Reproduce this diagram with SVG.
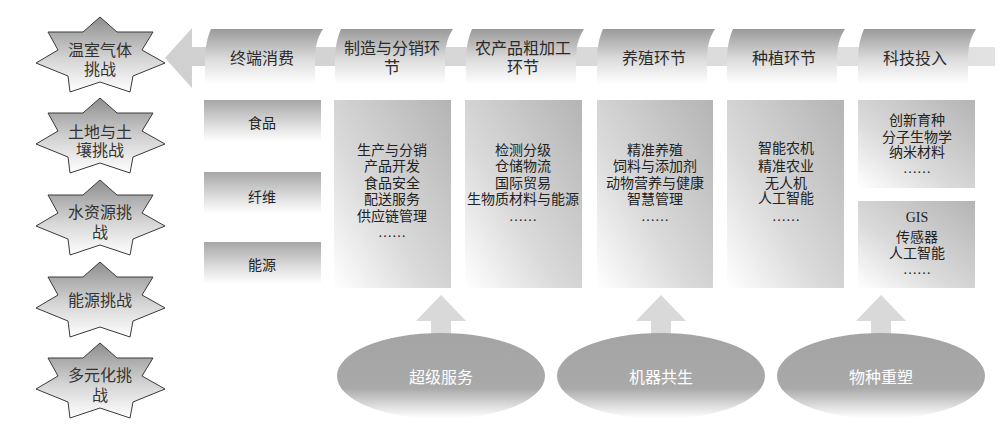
<svg xmlns="http://www.w3.org/2000/svg" width="1008" height="430" viewBox="0 0 1008 430">
<defs>
  <linearGradient id="gStar" x1="0" y1="0" x2="0" y2="1">
    <stop offset="0" stop-color="#8e8e8e"/>
    <stop offset="0.55" stop-color="#d4d4d4"/>
    <stop offset="1" stop-color="#ffffff"/>
  </linearGradient>
  <linearGradient id="gTab" x1="0" y1="0" x2="0" y2="1">
    <stop offset="0" stop-color="#9a9a9a"/>
    <stop offset="0.55" stop-color="#dcdcdc"/>
    <stop offset="1" stop-color="#ffffff"/>
  </linearGradient>
  <linearGradient id="gSmall" x1="0" y1="0" x2="0" y2="1">
    <stop offset="0" stop-color="#a6a6a6"/>
    <stop offset="0.6" stop-color="#dedede"/>
    <stop offset="1" stop-color="#ffffff"/>
  </linearGradient>
  <linearGradient id="gBox" x1="1" y1="0" x2="0" y2="1">
    <stop offset="0" stop-color="#b4b4b4"/>
    <stop offset="0.6" stop-color="#dadada"/>
    <stop offset="1" stop-color="#ffffff"/>
  </linearGradient>
  <linearGradient id="gEll" x1="0" y1="0" x2="0" y2="1">
    <stop offset="0" stop-color="#a4a4a4"/>
    <stop offset="0.64" stop-color="#a9a9a9"/>
    <stop offset="0.97" stop-color="#fbfbfb"/>
    <stop offset="1" stop-color="#ffffff"/>
  </linearGradient>
  <linearGradient id="gArrow" x1="0" y1="0" x2="1" y2="0">
    <stop offset="0" stop-color="#d0d0d0"/>
    <stop offset="1" stop-color="#e2e2e2"/>
  </linearGradient>
  <path id="star" d="M100,0 L117,15 L153,15 L142,33 L165,46 L133,59 L130,75 L100,65 L70,75 L68,59 L36,46 L58,33 L48,15 L83,15 Z"/>
  <path id="tab" d="M6,29 L118,29 C112,38 110,48 110,60 L110,84 L0,84 L0,60 C0,48 2,38 6,29 Z"/>
</defs>
<style>
  .star { fill: url(#gStar); stroke: #3a3a3a; stroke-width: 1; }
  .stxt { font-family: "Liberation Serif", "Noto Sans CJK SC", serif; font-size: 16px; fill: #333; text-anchor: middle; }
  .ttxt { font-family: "Liberation Sans", "Noto Sans CJK SC", sans-serif; font-size: 16px; fill: #2a2a2a; text-anchor: middle; }
  .small { fill: url(#gSmall); }
  .box { fill: url(#gBox); }
  .btxt { font-family: "Liberation Serif", "Noto Sans CJK SC", serif; font-size: 14px; fill: #222; text-anchor: middle; }
  .ell { fill: url(#gEll); }
  .etxt { font-family: "Liberation Sans", "Noto Sans CJK SC", sans-serif; font-size: 16px; fill: #ffffff; text-anchor: middle; }
  .arr { fill: #d9d9d9; }
</style>
<rect width="1008" height="430" fill="#ffffff"/>

<g id="connectors">
  <polygon points="165,58 192,28 192,47 995,47 995,66 192,66 192,88" fill="url(#gArrow)"/>
  <polygon class="arr" points="441,295 466,321 451,321 451,345 431,345 431,321 416,321"/>
  <polygon class="arr" points="661,295 686,321 671,321 671,345 651,345 651,321 636,321"/>
  <polygon class="arr" points="881,295 906,321 891,321 891,345 871,345 871,321 856,321"/>
</g>

<g id="star1" transform="translate(0,17)">
  <use href="#star" class="star"/>
  <text class="stxt" x="100" y="39">温室气体</text>
  <text class="stxt" x="100" y="58">挑战</text>
</g>
<g id="star2" transform="translate(0,98)">
  <use href="#star" class="star"/>
  <text class="stxt" x="100" y="40">土地与土</text>
  <text class="stxt" x="100" y="58">壤挑战</text>
</g>
<g id="star3" transform="translate(0,180)">
  <use href="#star" class="star"/>
  <text class="stxt" x="100" y="38">水资源挑</text>
  <text class="stxt" x="100" y="58">战</text>
</g>
<g id="star4" transform="translate(0,262)">
  <use href="#star" class="star"/>
  <text class="stxt" x="100" y="44">能源挑战</text>
</g>
<g id="star5" transform="translate(0,343)">
  <use href="#star" class="star"/>
  <text class="stxt" x="100" y="38">多元化挑</text>
  <text class="stxt" x="100" y="58">战</text>
</g>

<g id="tab1" transform="translate(205,0)">
  <use href="#tab" fill="url(#gTab)"/>
  <text class="ttxt" x="57" y="64">终端消费</text>
</g>
<g id="tab2" transform="translate(335,0)">
  <use href="#tab" fill="url(#gTab)"/>
  <text class="ttxt" x="57" y="54">制造与分销环</text>
  <text class="ttxt" x="57" y="73">节</text>
</g>
<g id="tab3" transform="translate(466,0)">
  <use href="#tab" fill="url(#gTab)"/>
  <text class="ttxt" x="57" y="54">农产品粗加工</text>
  <text class="ttxt" x="57" y="73">环节</text>
</g>
<g id="tab4" transform="translate(597,0)">
  <use href="#tab" fill="url(#gTab)"/>
  <text class="ttxt" x="57" y="64">养殖环节</text>
</g>
<g id="tab5" transform="translate(727,0)">
  <use href="#tab" fill="url(#gTab)"/>
  <text class="ttxt" x="57" y="64">种植环节</text>
</g>
<g id="tab6" transform="translate(858,0)">
  <use href="#tab" fill="url(#gTab)"/>
  <text class="ttxt" x="57" y="64">科技投入</text>
</g>

<g id="food">
  <rect class="small" x="204" y="100" width="117" height="42"/>
  <text class="btxt" x="262" y="128">食品</text>
</g>
<g id="fiber">
  <rect class="small" x="204" y="172" width="117" height="42"/>
  <text class="btxt" x="262" y="202">纤维</text>
</g>
<g id="energy">
  <rect class="small" x="204" y="242" width="117" height="42"/>
  <text class="btxt" x="262" y="270">能源</text>
</g>

<g id="box2">
  <rect class="box" x="334" y="100" width="117" height="188"/>
  <text class="btxt" x="392" y="155">生产与分销</text>
  <text class="btxt" x="392" y="171">产品开发</text>
  <text class="btxt" x="392" y="188">食品安全</text>
  <text class="btxt" x="392" y="204">配送服务</text>
  <text class="btxt" x="392" y="221">供应链管理</text>
  <text class="btxt" x="392" y="237">……</text>
</g>
<g id="box3">
  <rect class="box" x="465" y="100" width="117" height="188"/>
  <text class="btxt" x="523" y="155">检测分级</text>
  <text class="btxt" x="523" y="171">仓储物流</text>
  <text class="btxt" x="523" y="188">国际贸易</text>
  <text class="btxt" x="523" y="204">生物质材料与能源</text>
  <text class="btxt" x="523" y="221">……</text>
</g>
<g id="box4">
  <rect class="box" x="597" y="100" width="116" height="188"/>
  <text class="btxt" x="655" y="155">精准养殖</text>
  <text class="btxt" x="655" y="171">饲料与添加剂</text>
  <text class="btxt" x="655" y="188">动物营养与健康</text>
  <text class="btxt" x="655" y="204">智慧管理</text>
  <text class="btxt" x="655" y="221">……</text>
</g>
<g id="box5">
  <rect class="box" x="727" y="100" width="117" height="188"/>
  <text class="btxt" x="786" y="153">智能农机</text>
  <text class="btxt" x="786" y="171">精准农业</text>
  <text class="btxt" x="786" y="188">无人机</text>
  <text class="btxt" x="786" y="203">人工智能</text>
  <text class="btxt" x="786" y="221">……</text>
</g>
<g id="box6a">
  <rect class="box" x="858" y="100" width="117" height="88"/>
  <text class="btxt" x="917" y="125">创新育种</text>
  <text class="btxt" x="917" y="142">分子生物学</text>
  <text class="btxt" x="917" y="157">纳米材料</text>
  <text class="btxt" x="917" y="173">……</text>
</g>
<g id="box6b">
  <rect class="box" x="858" y="201" width="117" height="87"/>
  <text class="btxt" x="917" y="222">GIS</text>
  <text class="btxt" x="917" y="242">传感器</text>
  <text class="btxt" x="917" y="258">人工智能</text>
  <text class="btxt" x="917" y="274">……</text>
</g>

<g id="ell1">
  <ellipse class="ell" cx="441" cy="376" rx="104" ry="43"/>
  <text class="etxt" x="441" y="383">超级服务</text>
</g>
<g id="ell2">
  <ellipse class="ell" cx="661" cy="376" rx="104" ry="43"/>
  <text class="etxt" x="661" y="383">机器共生</text>
</g>
<g id="ell3">
  <ellipse class="ell" cx="881" cy="376" rx="104" ry="43"/>
  <text class="etxt" x="881" y="383">物种重塑</text>
</g>
</svg>
